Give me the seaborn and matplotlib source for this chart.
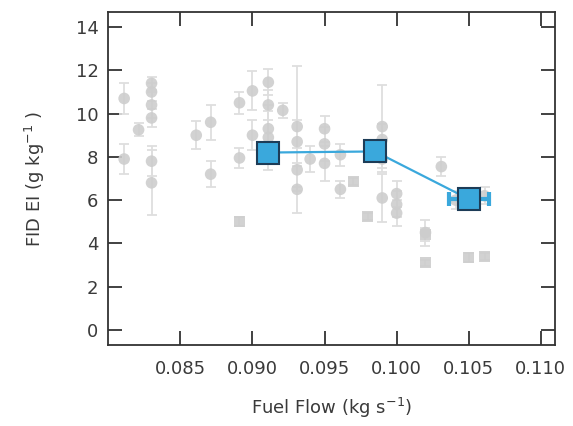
import matplotlib
matplotlib.use("Agg")
import matplotlib.pyplot as plt
import seaborn as sns
import pandas as pd
import numpy as np

# --- data ---
gray_x = [0.0811, 0.0811, 0.0821, 0.0830, 0.0830, 0.0830, 0.0830, 0.0830, 0.0830,
          0.0861, 0.0871, 0.0871, 0.0891, 0.0891, 0.0900, 0.0900, 0.0911, 0.0911,
          0.0911, 0.0911, 0.0921, 0.0931, 0.0931, 0.0931, 0.0931, 0.0940, 0.0950,
          0.0950, 0.0950, 0.0961, 0.0961, 0.0990, 0.0990, 0.0990, 0.0990, 0.1000,
          0.1000, 0.1000, 0.1031, 0.1041, 0.1061, 0.1020]
gray_y = [10.7, 7.9, 9.25, 11.4, 11.0, 10.4, 9.8, 7.8, 6.8,
          9.0, 9.6, 7.2, 10.5, 7.95, 11.05, 9.0, 11.45, 10.4,
          9.3, 8.9, 10.15, 9.4, 8.7, 7.4, 6.5, 7.9, 9.3,
          8.6, 7.7, 8.1, 6.5, 9.4, 8.8, 7.9, 6.1, 6.3,
          5.8, 5.4, 7.55, 6.0, 6.2, 4.5]
gray_err = [0.7, 0.7, 0.3, 0.3, 0.4, 0.6, 0.4, 0.7, 1.5,
            0.65, 0.8, 0.6, 0.5, 0.45, 0.9, 0.7, 0.6, 0.7,
            0.8, 1.5, 0.35, 2.8, 1.0, 1.0, 1.1, 0.6, 0.6,
            0.8, 0.8, 0.5, 0.4, 1.9, 0.7, 0.6, 1.1, 0.6,
            0.6, 0.6, 0.45, 0.4, 0.4, 0.6]

sq_x = [0.0891, 0.0970, 0.0980, 0.1020, 0.1020, 0.1050, 0.1061]
sq_y = [5.0, 6.85, 5.25, 3.1, 4.4, 3.35, 3.4]
sq_err = [0.2, 0.15, 0.15, 0.15, 0.3, 0.2, 0.15]

blue_x = [0.0911, 0.0985, 0.1050]
blue_y = [8.2, 8.25, 6.05]
blue_xerr = [0.0, 0.0, 0.0014]

x_ticks = [0.085, 0.090, 0.095, 0.100, 0.105, 0.110]
x_ticklabels = ["0.085", "0.090", "0.095", "0.100", "0.105", "0.110"]
y_ticks = [0, 2, 4, 6, 8, 10, 12, 14]

gray_df = pd.DataFrame({"x": gray_x, "y": gray_y, "err": gray_err})
sq_df = pd.DataFrame({"x": sq_x, "y": sq_y, "err": sq_err})
blue_df = pd.DataFrame({"x": blue_x, "y": blue_y, "xerr": blue_xerr})

sns.set_theme(style="white")
plt.rcParams["font.family"] = ["DejaVu Sans"]
text_color = "#3a3a3a"

fig = plt.figure(figsize=(5.73, 4.26), dpi=100)
ax = fig.add_axes([0.189, 0.190, 0.780, 0.782])

gray_pt = "#cdcdcd"
gray_bar = "#dedede"

ax.errorbar(gray_df["x"], gray_df["y"], yerr=gray_df["err"], fmt="none",
            ecolor=gray_bar, elinewidth=1.3, capsize=3.5, capthick=1.3, zorder=1)
ax.errorbar(sq_df["x"], sq_df["y"], yerr=sq_df["err"], fmt="none",
            ecolor=gray_bar, elinewidth=1.3, capsize=3.5, capthick=1.3, zorder=1)
sns.scatterplot(data=gray_df, x="x", y="y", ax=ax, color=gray_pt, s=70,
                marker="o", edgecolor="none", alpha=0.9, zorder=2)
sns.scatterplot(data=sq_df, x="x", y="y", ax=ax, color=gray_pt, s=65,
                marker="s", edgecolor="none", alpha=0.9, zorder=2)

blue = "#3aa8dc"
ax.errorbar(blue_df["x"], blue_df["y"], xerr=blue_df["xerr"], fmt="none",
            ecolor=blue, elinewidth=3, capsize=5, capthick=3, zorder=3)
sns.lineplot(data=blue_df, x="x", y="y", ax=ax, color=blue, linewidth=1.6,
             marker="s", markersize=16.5, markerfacecolor=blue,
             markeredgecolor="#1d3c57", markeredgewidth=1.5, zorder=4)

ax.set_xlim(0.0800, 0.1110)
ax.set_ylim(-0.7, 14.7)
ax.set_xticks(x_ticks)
ax.set_xticklabels(x_ticklabels)
ax.set_yticks(y_ticks)
ax.set_yticklabels([str(v) for v in y_ticks])

for sp in ax.spines.values():
    sp.set_visible(True)
    sp.set_color("#333333")
    sp.set_linewidth(1.3)

ax.tick_params(axis="both", which="both", direction="in", length=10, width=1.3,
               color="#333333", top=True, right=True, bottom=True, left=True,
               labelsize=13, labelcolor=text_color, pad=7)
ax.tick_params(axis="x", pad=11)

ax.set_xlabel("Fuel Flow (kg s$^{\\mathregular{-1}}$)", fontsize=13,
              color=text_color, labelpad=13)
ax.set_ylabel("FID EI (g kg$^{\\mathregular{-1}}$ )", fontsize=13,
              color=text_color, labelpad=21)
ax.grid(False)

fig.savefig("out.png", dpi=100)
